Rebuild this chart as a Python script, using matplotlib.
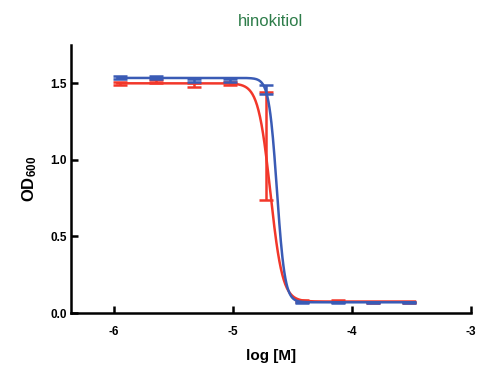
import numpy as np
import matplotlib
matplotlib.use("Agg")
import matplotlib.pyplot as plt

plt.rcParams['font.family'] = ['Liberation Sans', 'DejaVu Sans']
plt.rcParams['mathtext.fontset'] = 'custom'
plt.rcParams['mathtext.bf'] = 'Liberation Sans:bold'
plt.rcParams['mathtext.rm'] = 'Liberation Sans'

# log concentration (M)
log_conc = [-5.95, -5.65, -5.33, -5.02, -4.72, -4.42, -4.12, -3.82, -3.52]

# measured OD600 means and SD
red_mean = [1.50, 1.51, 1.49, 1.50, 1.09, 0.08, 0.08, 0.07, 0.07]
red_sd = [0.01, 0.01, 0.015, 0.01, 0.35, 0.005, 0.005, 0.004, 0.004]
blue_mean = [1.54, 1.54, 1.52, 1.52, 1.46, 0.07, 0.07, 0.07, 0.07]
blue_sd = [0.01, 0.01, 0.01, 0.01, 0.03, 0.005, 0.004, 0.004, 0.004]

# fitted 4PL params: top, bottom, logEC50, hill
red_fit = (1.50, 0.075, -4.685, 8.5)
blue_fit = (1.535, 0.07, -4.63, 13.0)

red_c = '#F2372A'
blue_c = '#3A5BB5'


def four_pl(x, top, bottom, logec50, hill):
    return bottom + (top - bottom) / (1 + 10 ** ((x - logec50) * hill))


fig = plt.figure(figsize=(4.88, 3.71), dpi=100)
ax = fig.add_axes([0.1455, 0.1563, 0.8195, 0.7224])

xs = np.linspace(-5.97, -3.47, 600)
ax.plot(xs, four_pl(xs, *red_fit), color=red_c, lw=1.8)
ax.errorbar(log_conc, red_mean, yerr=red_sd, fmt='none', ecolor=red_c,
            elinewidth=1.8, capsize=5, capthick=1.8)
ax.plot(xs, four_pl(xs, *blue_fit), color=blue_c, lw=1.8)
ax.errorbar(log_conc, blue_mean, yerr=blue_sd, fmt='none', ecolor=blue_c,
            elinewidth=1.8, capsize=5, capthick=1.8)

ax.set_xlim(-6.36, -3.0)
ax.set_ylim(0, 1.75)
ax.set_xticks([-6, -5, -4, -3])
ax.set_xticklabels(['-6', '-5', '-4', '-3'])
ax.set_yticks([0, 0.5, 1.0, 1.5])
ax.set_yticklabels(['0.0', '0.5', '1.0', '1.5'])
ax.spines['top'].set_visible(False)
ax.spines['right'].set_visible(False)
for s in ['left', 'bottom']:
    ax.spines[s].set_linewidth(1.8)
ax.tick_params(direction='in', length=5, width=1.8, labelsize=8.5, pad=3)
for lab in ax.get_xticklabels() + ax.get_yticklabels():
    lab.set_fontweight('bold')
ax.tick_params(axis='x', pad=9)

ax.set_xlabel('log [M]', fontsize=11, fontweight='bold', labelpad=8)
ax.set_ylabel(r'$\mathbf{OD_{600}}$', fontsize=12, labelpad=8)
ax.set_title('hinokitiol', fontsize=12, color='#2E7D4A', pad=14)

fig.savefig('out.png', dpi=100)
